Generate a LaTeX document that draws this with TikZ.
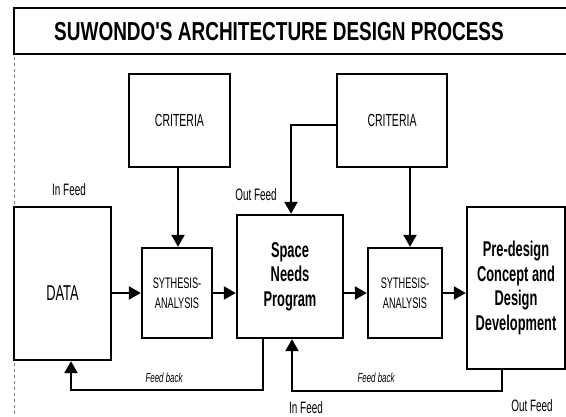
\documentclass[tikz,border=0pt]{standalone}
\usepackage{fontspec}
\setmainfont{Liberation Sans}[FakeStretch=0.6]
\newfontfamily\titlefont{Liberation Sans}[FakeStretch=0.73]
\usetikzlibrary{arrows.meta,calc}
\begin{document}
\begin{tikzpicture}[x=1pt,y=-1pt,
  box/.style={draw,line width=2.4pt,inner sep=0pt,align=center},
  arr/.style={line width=2.4pt,-{Triangle[length=12pt,width=13pt]}},
  lab/.style={font=\fontsize{16.5}{18}\selectfont,inner sep=0pt},
  fb/.style={font=\fontsize{13.2}{15}\selectfont\itshape,inner sep=0pt},
  boldtxt/.style={font=\fontsize{21.4}{24.5}\selectfont\bfseries},
  smtxt/.style={font=\fontsize{15.3}{20}\selectfont}]
\useasboundingbox (0,0) rectangle (566,417);
\fill[white] (0,0) rectangle (566,417);
% title
\node[box,line width=2.6pt,minimum width=558pt,minimum height=46pt] (titlebox) at (293,31) {};
\node[inner sep=0pt,font=\titlefont\fontsize{26}{28}\selectfont\bfseries] (title) at (279,32) {SUWONDO'S ARCHITECTURE DESIGN PROCESS};
\draw[gray,dashed,line width=0.6pt] (14,57) coordinate (dtop) -- (14,417) coordinate (dbot);
% boxes
\node[box,minimum width=101pt,minimum height=93pt,font=\fontsize{17.5}{19}\selectfont] (crit1) at (179.5,120.5) {CRITERIA};
\node[box,minimum width=110pt,minimum height=93pt,font=\fontsize{17.5}{19}\selectfont] (crit2) at (392,120.5) {CRITERIA};
\node[box,minimum width=97pt,minimum height=153pt,
  label={[yshift=-9.5pt,font=\fontsize{21.5}{23}\selectfont]center:DATA}] (data) at (62.5,283.5) {};
\node[box,minimum width=70pt,minimum height=90pt,smtxt] (syn1) at (177,293) {SYTHESIS-\\ANALYSIS};
\node[box,minimum width=106pt,minimum height=123pt,boldtxt] (space) at (290,276.5) {Space\\Needs\\Program};
\node[box,minimum width=74pt,minimum height=90pt,smtxt] (syn2) at (405,293) {SYTHESIS-\\ANALYSIS};
\node[box,minimum width=98pt,minimum height=162pt,boldtxt] (pre) at (516,288) {Pre-design\\Concept and\\Design\\Development};
% arrows
\draw[arr] (data.east |- syn1.west) -- (syn1.west);
\draw[arr] (syn1.east) -- (space.west |- syn1.east);
\draw[arr] (space.east |- syn2.west) -- (syn2.west);
\draw[arr] (syn2.east) -- (pre.west |- syn2.east);
\draw[arr] ([xshift=-1.5pt]crit1.south) -- ([xshift=-1.5pt]crit1.south |- syn1.north);
\draw[arr] ([xshift=18pt]crit2.south) -- ([xshift=18pt]crit2.south |- syn2.north);
\draw[arr] ([yshift=-4.5pt]crit2.west) -| ([xshift=1pt]space.north);
% feedback loops
\coordinate (fbar) at (263,390);
\coordinate (fbal) at (71,390);
\draw[arr] ([xshift=-27pt]space.south) -- (fbar) -- (fbal) -- (fbal |- data.south);
\coordinate (fbbr) at (502,391);
\coordinate (fbbl) at (292,391);
\draw[arr] ([xshift=-14pt]pre.south) -- (fbbr) -- (fbbl) -- (fbbl |- space.south);
% labels
\node[fb] (fb1) at (164,378) {Feed back};
\node[fb] (fb2) at (376,378) {Feed back};
\node[lab] (in1) at (69,190) {In Feed};
\node[lab] (out1) at (256,195) {Out Feed};
\node[lab] (in2) at (306,408) {In Feed};
\node[lab] (out2) at (532,406) {Out Feed};
\end{tikzpicture}
\end{document}
